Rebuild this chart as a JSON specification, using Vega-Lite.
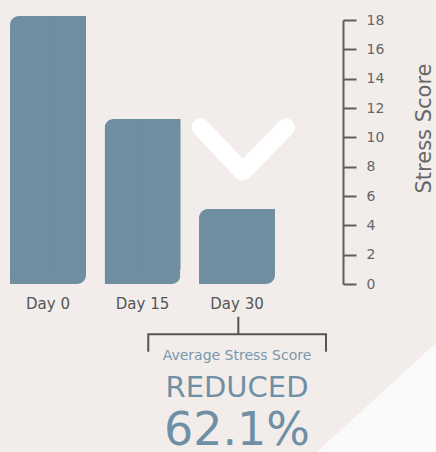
{
  "$schema": "https://vega.github.io/schema/vega-lite/v6.json",
  "width": 285,
  "height": 264,
  "autosize": {"type": "none"},
  "padding": {"left": 0, "top": 20, "right": 151, "bottom": 168},
  "background": "#f2edea",
  "config": {"view": {"stroke": null}, "font": "DejaVu Sans"},
  "data": {"values": [
    {"day": "Day 0", "score": 18.27},
    {"day": "Day 15", "score": 11.25},
    {"day": "Day 30", "score": 5.11}
  ]},
  "layer": [
    {
      "mark": {"type": "bar", "color": "#6f8ea0", "cornerRadiusEnd": 9, "cornerRadiusBottomRight": 9},
      "encoding": {
        "x": {
          "field": "day", "type": "nominal",
          "scale": {"type": "band", "domain": ["Day 0", "Day 15", "Day 30"], "paddingInner": 0.196, "paddingOuter": 0.106},
          "axis": {"title": null, "domain": false, "ticks": false, "tickSize": 0, "labelAngle": 0, "labelPadding": 24, "labelBaseline": "alphabetic", "labelFontSize": 15, "labelColor": "#555555", "labelFont": "DejaVu Sans"}
        },
        "y": {
          "field": "score", "type": "quantitative",
          "scale": {"domain": [0, 18], "nice": false},
          "axis": {
            "orient": "right", "offset": 58, "grid": false,
            "values": [0, 2, 4, 6, 8, 10, 12, 14, 16, 18], "tickCount": 20,
            "labelOverlap": false, "labelFlush": false, "labelBound": false,
            "domainColor": "#5e5e5e", "domainWidth": 2,
            "tickColor": "#5e5e5e", "tickWidth": 2, "tickSize": 13,
            "labelPadding": 10, "labelFontSize": 14, "labelColor": "#666666", "labelFont": "DejaVu Sans",
            "title": "Stress Score", "titleAngle": 270, "titleFontSize": 21, "titleFontWeight": "normal",
            "titleColor": "#666666", "titleFont": "DejaVu Sans", "titleX": 81, "titleY": 108,
            "titleBaseline": "middle", "titleAlign": "center"
          }
        }
      }
    },
    {
      "mark": {"type": "bar", "color": "#6f8ea0", "width": {"band": 0.5}, "xOffset": 19},
      "encoding": {
        "x": {"field": "day", "type": "nominal"},
        "y": {"field": "score", "type": "quantitative"},
        "y2": {"datum": 1}
      }
    },
    {
      "data": {"values": [{"day": "Day 30", "mark": "chevron"}]},
      "mark": {"type": "point", "shape": "M-0.844,-0.516L0.133,0.516L1.14,-0.516", "filled": false, "stroke": "#ffffff", "strokeWidth": 18, "strokeCap": "round", "strokeJoin": "round", "opacity": 1, "size": 7396},
      "encoding": {
        "x": {"field": "day", "type": "nominal"},
        "y": {"datum": 9.17}
      }
    },
    {
      "data": {"values": [{"day": "Day 30", "mark": "bracket"}]},
      "mark": {"type": "point", "shape": "M-0.997,0.196L-0.997,0L1,0L1,0.196M0.015,0L0.015,-0.198", "filled": false, "stroke": "#555555", "strokeWidth": 2, "opacity": 1, "size": 31684},
      "encoding": {
        "x": {"field": "day", "type": "nominal"},
        "y": {"datum": -3.43}
      }
    },
    {
      "data": {"values": [{"day": "Day 30", "mark": "corner"}]},
      "mark": {"type": "point", "shape": "M3.317,-0.908L1.232,1.0L3.6,1.0L3.6,-0.908Z", "filled": true, "fill": "#fbfafa", "strokeWidth": 0, "opacity": 1, "size": 14400},
      "encoding": {
        "x": {"field": "day", "type": "nominal"},
        "y": {"datum": -7.74}
      }
    },
    {
      "data": {"values": [{"day": "Day 30", "text": "Average Stress Score"}]},
      "mark": {"type": "text", "baseline": "alphabetic", "align": "center", "fontSize": 14, "color": "#7898ab", "font": "DejaVu Sans"},
      "encoding": {
        "x": {"field": "day", "type": "nominal"},
        "y": {"datum": -5.18},
        "text": {"field": "text"}
      }
    },
    {
      "data": {"values": [{"day": "Day 30", "text": "REDUCED"}]},
      "mark": {"type": "text", "baseline": "alphabetic", "align": "center", "fontSize": 29, "color": "#6f90a4", "font": "DejaVu Sans"},
      "encoding": {
        "x": {"field": "day", "type": "nominal"},
        "y": {"datum": -7.70},
        "text": {"field": "text"}
      }
    },
    {
      "data": {"values": [{"day": "Day 30", "text": "62.1%"}]},
      "mark": {"type": "text", "baseline": "alphabetic", "align": "center", "fontSize": 46, "color": "#6f90a4", "font": "DejaVu Sans"},
      "encoding": {
        "x": {"field": "day", "type": "nominal"},
        "y": {"datum": -11.0},
        "text": {"field": "text"}
      }
    }
  ]
}
